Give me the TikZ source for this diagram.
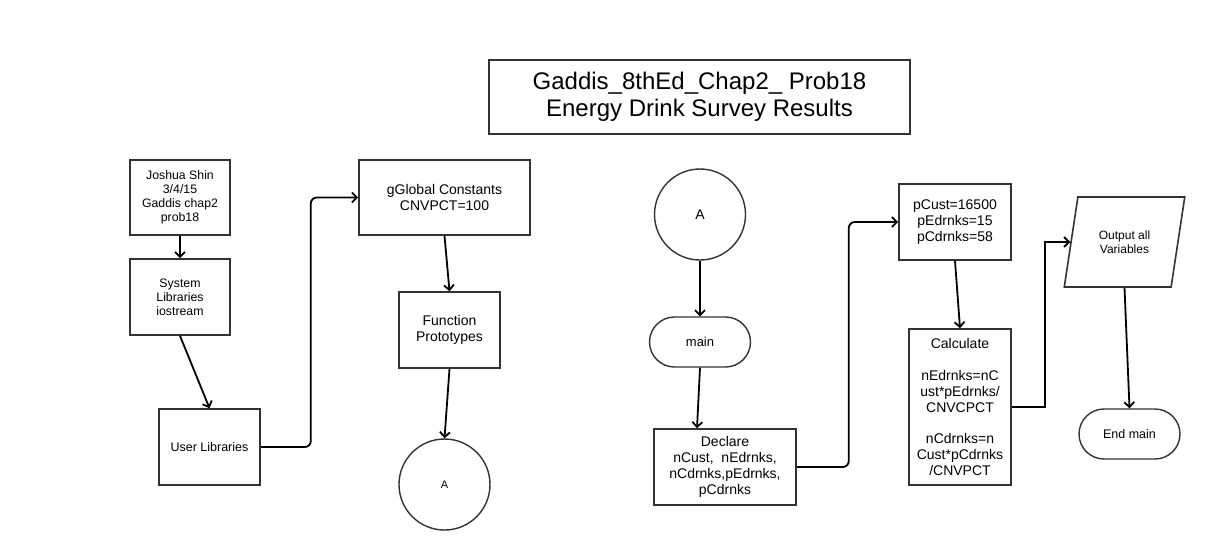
\documentclass[tikz,border=0pt]{standalone}
\usepackage{fontspec}
\setmainfont{Liberation Sans}
\usetikzlibrary{arrows.meta,positioning,shapes.geometric}
\definecolor{chartgray}{HTML}{333333}
\newcommand{\fsz}[2]{\fontsize{#1}{#2}\selectfont}
\newcommand{\flowbox}[6][]{
    \node[
        draw=chartgray,
        line width=1.6pt,
        minimum width=#4,
        minimum height=#5,
        inner sep=0pt,
        align=center,
        #1
    ] (#2) at (#3) {#6};
}

\begin{document}
\begin{tikzpicture}[x=1pt,y=-1pt,>={Straight Barb[length=5pt,width=10pt]},
    conn/.style={->,line width=1.8pt,black},
    connector/.style={circle,draw=chartgray,line width=1.4pt,minimum size=91pt,inner sep=0pt,font=\fsz{11}{12}},
    terminal/.style={draw=chartgray,line width=1.4pt,rounded corners=25pt,minimum width=101pt,minimum height=50pt,inner sep=0pt,align=center}]
    \useasboundingbox (0,0) rectangle (1206,550);

    \flowbox[font=\fsz{24}{27}]{title}{699.5,97}{421pt}{74pt}{Gaddis\_8thEd\_Chap2\_ Prob18\\Energy Drink Survey Results}

    % left column
    \flowbox[font=\fsz{12.3}{14}]{author}{180,197.5}{100pt}{75pt}{Joshua Shin\\3/4/15\\Gaddis chap2\\prob18}
    \flowbox[font=\fsz{12.3}{14}]{syslib}{180,297}{100pt}{76pt}{System\\Libraries\\iostream}
    \flowbox[font=\fsz{12.5}{14}]{userlib}{209.5,447}{101pt}{76pt}{User Libraries}
    \flowbox[font=\fsz{14}{16}]{globconst}{444.5,197.5}{171pt}{75pt}{gGlobal Constants\\CNVPCT=100}
    \flowbox[font=\fsz{14}{16}]{protos}{449.5,330}{101pt}{76pt}{Function\\Prototypes}
    \node[connector] (conA) at (444.5,484.5) {A};

    % main
    \node[connector,font=\fsz{14}{16}] (conB) at (700,214.5) {A};
    \node[terminal,font=\fsz{13}{15}] (mainst) at (700,342) {main};
    \flowbox[font=\fsz{14}{16}]{declare}{725,467}{142pt}{76pt}{Declare\\nCust,\ \ nEdrnks,\\nCdrnks,pEdrnks,\\pCdrnks}
    \flowbox[font=\fsz{14}{16}]{init}{955,222}{112pt}{76pt}{pCust=16500\\pEdrnks=15\\pCdrnks=58}
    \flowbox[font=\fsz{14}{15.8}]{calc}{960,407}{102pt}{156pt}{Calculate\\[15.8pt]nEdrnks=nC\\ust*pEdrnks/\\CNVCPCT\\[15.8pt]nCdrnks=n\\Cust*pCdrnks\\/CNVPCT}
    \node[trapezium,trapezium left angle=72,trapezium right angle=108,trapezium stretches=true,draw=chartgray,line width=1.6pt,minimum width=121pt,minimum height=90pt,inner sep=0pt,align=center,font=\fsz{12}{14.3}] (output) at (1124.5,242) {Output all\\Variables};
    \node[terminal,font=\fsz{12.5}{14}] (endmain) at (1129.5,434) {End main};

    \draw[conn] (author) -- (syslib);
    \draw[conn] (syslib.south) -- (userlib.north);
    \draw[conn,rounded corners=6pt] (userlib.east) -- ++(50,0) |- (globconst.west);
    \draw[conn] (globconst.south) -- (protos.north);
    \draw[conn] (protos.south) -- (conA.north);

    \draw[conn] (conB) -- (mainst);
    \draw[conn] (mainst.south) -- ([xshift=-28pt]declare.north);
    \draw[conn,rounded corners=6pt] (declare.east) -- ++(52,0) |- (init.west);
    \draw[conn] (init.south) -- (calc.north);
    \draw[conn] (calc.east) -- ++(33,0) |- (output.west);
    \draw[conn] (output.south) -- (endmain.north);
\end{tikzpicture}
\end{document}
